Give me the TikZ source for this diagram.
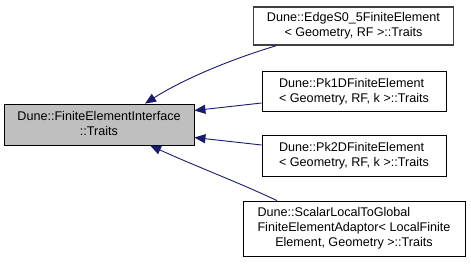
\documentclass[tikz,border=0pt]{standalone}
\usepackage{fontspec}
\setmainfont{Liberation Sans}
\usetikzlibrary{arrows.meta}
\begin{document}
\begin{tikzpicture}[x=1bp,y=-1bp,
  cls/.style={draw=black, line width=0.8bp, fill=white, inner sep=0pt,
    font=\fontsize{12.6bp}{15bp}\selectfont},
  focus/.style={cls, fill=black!25},
  heavy/.style={cls, draw=black!75, line width=1.6bp},
  inherit/.style={draw=midnightblue, line width=0.9bp,
    {Triangle[length=11bp,width=9bp]}-}
]
\definecolor{midnightblue}{HTML}{191970}
\useasboundingbox (0,0) rectangle (471,263);
\newcommand{\lines}[2]{\begin{tabular}{@{}l@{}}#1\multicolumn{1}{@{}c@{}}{#2}\end{tabular}}

\node[focus, minimum width=190bp, minimum height=41bp] (base) at (99,124.5)
  {\lines{Dune::FiniteElementInterface\\}{::Traits}};
\node[heavy, minimum width=200bp, minimum height=38bp] (edge) at (353.5,26)
  {\lines{Dune::EdgeS0\_5FiniteElement\\}{< Geometry, RF >::Traits}};
\node[cls, minimum width=184bp, minimum height=40bp] (pkone) at (354,91.5)
  {\lines{Dune::Pk1DFiniteElement\\}{< Geometry, RF, k >::Traits}};
\node[cls, minimum width=184bp, minimum height=41bp] (pktwo) at (354,155.5)
  {\lines{Dune::Pk2DFiniteElement\\}{< Geometry, RF, k >::Traits}};
\node[cls, minimum width=222bp, minimum height=55bp] (adaptor) at (354,228.5)
  {\lines{Dune::ScalarLocalToGlobal\\FiniteElementAdaptor< LocalFinite\\}{Element, Geometry >::Traits}};

% inheritance arrows point at the base class
\draw[inherit] ([xshift=46bp]base.north) .. controls (185,78) and (235,58) .. ([xshift=-77.5bp]edge.south);
\draw[inherit] ([yshift=14bp]base.east) -- ([yshift=-11.5bp]pkone.west);
\draw[inherit] ([yshift=-13bp]base.east) -- ([yshift=10.5bp]pktwo.west);
\draw[inherit] ([xshift=51bp]base.south) .. controls (195,166) and (240,183) .. ([xshift=-77bp]adaptor.north);
\end{tikzpicture}
\end{document}
